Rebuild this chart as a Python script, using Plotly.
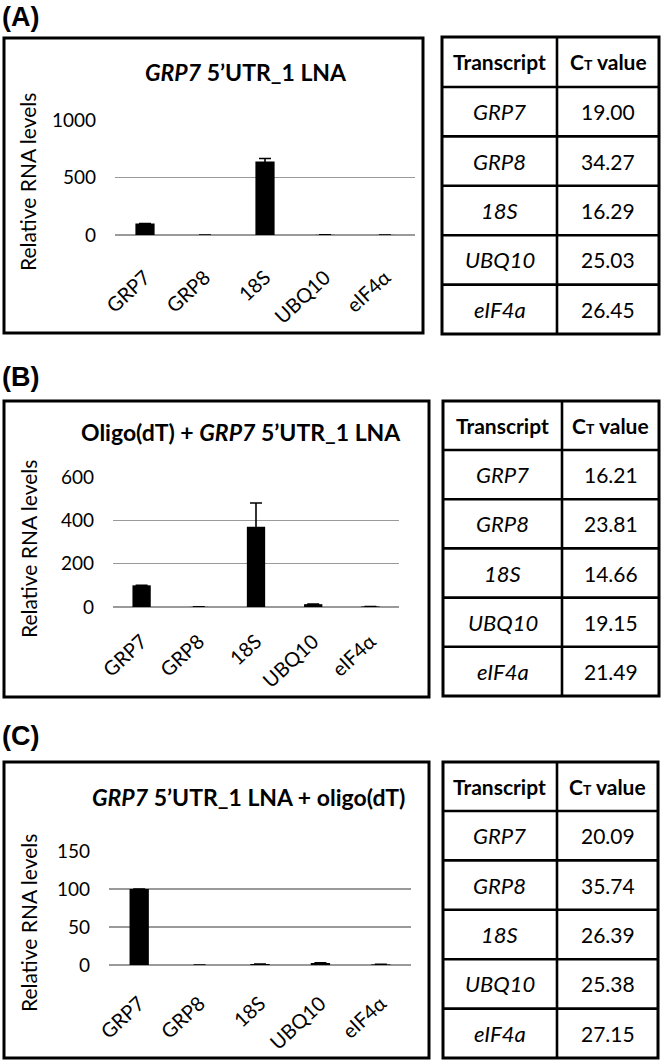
import plotly.graph_objects as go

# ---------------- data ----------------
categories = ["GRP7", "GRP8", "18S", "UBQ10", "eIF4a"]
tick_labels = ["GRP7", "GRP8", "18S", "UBQ10", "eIF4α"]

values_A = [100, 0.003, 640, 1.5, 0.6]
errors_A = [0, 0, 25, 0, 0]
values_B = [100, 0.5, 370, 13, 2.6]
errors_B = [0, 0, 110, 0.5, 0]
values_C = [100, 0.002, 1.3, 2.6, 0.8]
errors_C = [0, 0, 0, 0.3, 0]

ct_A = ["19.00", "34.27", "16.29", "25.03", "26.45"]
ct_B = ["16.21", "23.81", "14.66", "19.15", "21.49"]
ct_C = ["20.09", "35.74", "26.39", "25.38", "27.15"]

table_names = ["GRP7", "GRP8", "18S", "UBQ10", "eIF4a"]

titles = [
    "<b><i>GRP7</i> 5’UTR_1 LNA</b>",
    "<b>Oligo(dT) + <i>GRP7</i> 5’UTR_1 LNA</b>",
    "<b><i>GRP7</i> 5’UTR_1 LNA + oligo(dT)</b>",
]
panel_labels = ["(A)", "(B)", "(C)"]
y_ranges = [[0, 1000], [0, 600], [0, 150]]
y_dtick = [500, 200, 50]

# ---------------- layout geometry (pixels) ----------------
W, H = 661, 1062
def fx(p): return p / W
def fy(p): return 1 - p / H

geo = [
    dict(label_top=0, box=(4, 38, 423, 333), plot=(115, 120, 415, 235), title=(246, 72), ytitle=(27, 182),
         table=(442, 557, 659, 37, 87, 334), standoff=26),
    dict(label_top=360, box=(4, 401, 429, 697), plot=(113, 477, 399, 607), title=(241, 432), ytitle=(28, 549),
         table=(443, 562, 659, 401, 450, 696), standoff=18),
    dict(label_top=719, box=(4, 762, 429, 1058), plot=(109, 851, 411, 965), title=(248, 797), ytitle=(28, 923),
         table=(443, 557, 658, 762, 811, 1058), standoff=22),
]

FONT = "Lato"
values = [values_A, values_B, values_C]
errors = [errors_A, errors_B, errors_C]
cts = [ct_A, ct_B, ct_C]

fig = go.Figure()
shapes = []
annotations = []
layout_axes = {}

for i in range(3):
    g = geo[i]
    xa = "x" if i == 0 else f"x{i+1}"
    ya = "y" if i == 0 else f"y{i+1}"
    fig.add_trace(go.Bar(
        x=categories, y=values[i], xaxis=xa, yaxis=ya,
        marker=dict(color="black", line=dict(width=0)),
        width=0.32,
        error_y=dict(type="data", array=errors[i], visible=True, color="black", thickness=1.6, width=6),
        showlegend=False, hoverinfo="skip",
    ))
    px0, py0, px1, py1 = g["plot"]
    xkey = "xaxis" if i == 0 else f"xaxis{i+1}"
    ykey = "yaxis" if i == 0 else f"yaxis{i+1}"
    layout_axes[xkey] = dict(
        domain=[fx(px0), fx(px1)], anchor=ya, automargin=False,
        tickmode="array", tickvals=categories, ticktext=tick_labels,
        tickangle=-43, showgrid=False, showline=False, ticks="",
        tickfont=dict(family=FONT, size=20, color="black"),
        ticklabelstandoff=g["standoff"], fixedrange=True,
    )
    layout_axes[ykey] = dict(
        domain=[fy(py1), fy(py0)], anchor=xa, range=y_ranges[i], automargin=False,
        dtick=y_dtick[i], tick0=0, showgrid=True, gridcolor="#9a9a9a", gridwidth=1.6,
        zeroline=True, zerolinecolor="#9a9a9a", zerolinewidth=1.6,
        showline=False, ticks="",
        tickfont=dict(family=FONT, size=19, color="black"),
        ticklabelstandoff=18, fixedrange=True,
    )
    # chart box
    bx0, by0, bx1, by1 = g["box"]
    shapes.append(dict(type="rect", xref="paper", yref="paper",
                       x0=fx(bx0), x1=fx(bx1), y0=fy(by1), y1=fy(by0),
                       line=dict(color="black", width=3), fillcolor="rgba(0,0,0,0)"))
    # panel label
    annotations.append(dict(text=f"<b>{panel_labels[i]}</b>", x=fx(0), y=fy(g["label_top"]),
                            xref="paper", yref="paper", xanchor="left", yanchor="top", showarrow=False,
                            font=dict(family="Liberation Sans", size=27, color="black")))
    # title
    tx, ty = g["title"]
    annotations.append(dict(text=titles[i], x=fx(tx), y=fy(ty), xref="paper", yref="paper",
                            xanchor="center", yanchor="middle", showarrow=False,
                            font=dict(family=FONT, size=23, color="black")))
    # y title
    yx, yy = g["ytitle"]
    annotations.append(dict(text="Relative RNA levels", x=fx(yx), y=fy(yy), xref="paper", yref="paper",
                            xanchor="center", yanchor="middle", textangle=-90, showarrow=False,
                            font=dict(family=FONT, size=21, color="black")))
    # table
    tx0, tdiv, tx1, ty0, tyh, ty1 = g["table"]
    shapes.append(dict(type="rect", xref="paper", yref="paper",
                       x0=fx(tx0), x1=fx(tx1), y0=fy(ty1), y1=fy(ty0),
                       line=dict(color="black", width=3), fillcolor="rgba(0,0,0,0)"))
    shapes.append(dict(type="line", xref="paper", yref="paper",
                       x0=fx(tdiv), x1=fx(tdiv), y0=fy(ty1), y1=fy(ty0),
                       line=dict(color="black", width=2.6)))
    n = len(table_names)
    rh = (ty1 - tyh) / n
    row_edges = [tyh + k * rh for k in range(n)]
    for ry in row_edges:
        shapes.append(dict(type="line", xref="paper", yref="paper",
                           x0=fx(tx0), x1=fx(tx1), y0=fy(ry), y1=fy(ry),
                           line=dict(color="black", width=2.6)))
    c1 = (tx0 + tdiv) / 2
    c2 = (tdiv + tx1) / 2
    hy = (ty0 + tyh) / 2
    annotations.append(dict(text="<b>Transcript</b>", x=fx(c1), y=fy(hy), xref="paper", yref="paper",
                            xanchor="center", yanchor="middle", showarrow=False,
                            font=dict(family=FONT, size=21, color="black")))
    annotations.append(dict(text="<b>C<span style='font-size:14px'>T</span> value</b>", x=fx(c2), y=fy(hy),
                            xref="paper", yref="paper", xanchor="center", yanchor="middle", showarrow=False,
                            font=dict(family=FONT, size=21, color="black")))
    for k in range(n):
        cy = tyh + (k + 0.5) * rh
        annotations.append(dict(text=f"<i>{table_names[k]}</i>", x=fx(c1), y=fy(cy), xref="paper", yref="paper",
                                xanchor="center", yanchor="middle", showarrow=False,
                                font=dict(family=FONT, size=22, color="black")))
        annotations.append(dict(text=cts[i][k], x=fx(c2), y=fy(cy), xref="paper", yref="paper",
                                xanchor="center", yanchor="middle", showarrow=False,
                                font=dict(family=FONT, size=21, color="black")))

fig.update_layout(
    width=W, height=H, autosize=False,
    margin=dict(l=0, r=0, t=0, b=0, pad=0, autoexpand=False),
    paper_bgcolor="white", plot_bgcolor="white",
    shapes=shapes, annotations=annotations,
    bargap=0.68, hovermode=False,
    **layout_axes,
)

fig.write_html("out.html",
               config={"displayModeBar": False, "staticPlot": True},
               post_script="document.body.style.margin='0';document.body.style.padding='0';"
                           "document.documentElement.style.overflow='hidden';")
